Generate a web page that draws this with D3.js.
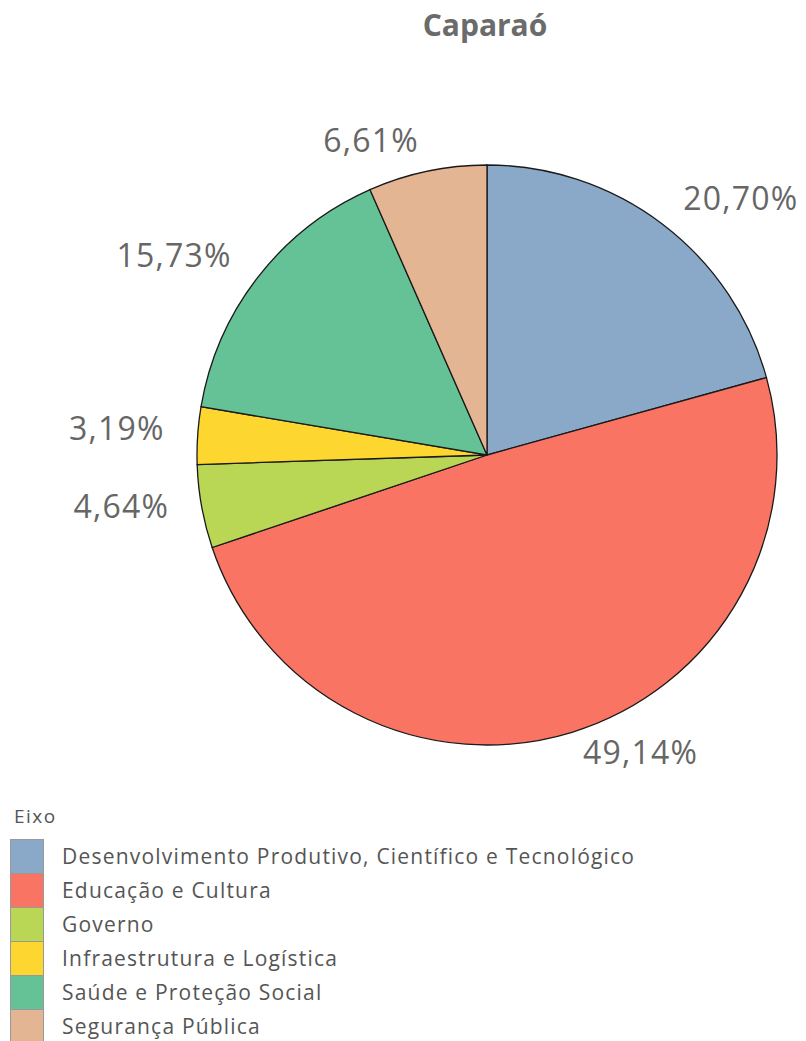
<!DOCTYPE html>
<html>
<head>
<meta charset="utf-8">
<script src="https://cdn.jsdelivr.net/npm/d3@7"></script>
<style>
  body { margin: 0; background: #fff; }
  text { font-family: "Open Sans", "Noto Sans", sans-serif; }
</style>
</head>
<body>
<svg id="mainsvg" width="806" height="1041"></svg>
<script>
const title = "Caparaó";
const legendTitle = "Eixo";
const categories = [
  "Desenvolvimento Produtivo, Científico e Tecnológico",
  "Educação e Cultura",
  "Governo",
  "Infraestrutura e Logística",
  "Saúde e Proteção Social",
  "Segurança Pública"
];
const values = [20.70, 49.14, 4.64, 3.19, 15.73, 6.61];
const labels = ["20,70%", "49,14%", "4,64%", "3,19%", "15,73%", "6,61%"];
const colors = ["#8aa9c9", "#f97462", "#b9d655", "#fdd62f", "#65c297", "#e3b593"];

const svg = d3.select("#mainsvg");
const cx = 487, cy = 455, radius = 290;

svg.append("text")
  .attr("x", 485).attr("y", 36)
  .attr("text-anchor", "middle")
  .style("font-size", "30px")
  .style("font-weight", "bold")
  .style("fill", "#6b6b6b")
  .text(title);

const data = categories.map((c, i) => ({name: c, value: values[i], label: labels[i], color: colors[i]}));

const pie = d3.pie().sort(null).value(d => d.value);
const arc = d3.arc().innerRadius(0).outerRadius(radius);

const g = svg.append("g").attr("transform", `translate(${cx},${cy})`);
const arcs = pie(data);

g.selectAll("path")
  .data(arcs)
  .enter().append("path")
  .attr("d", arc)
  .attr("fill", d => d.data.color)
  .attr("stroke", "#1a1a1a")
  .attr("stroke-width", 1.3);

// labels sit just outside the rim, at the slice mid-angle
const midAngle = d => (d.startAngle + d.endAngle) / 2;
g.selectAll("text.lbl")
  .data(arcs)
  .enter().append("text")
  .attr("class", "lbl")
  .attr("x", d => 321 * Math.sin(midAngle(d)) + (midAngle(d) < Math.PI ? 2 : -2))
  .attr("y", d => -316 * Math.cos(midAngle(d)) - 5)
  .attr("text-anchor", d => (midAngle(d) < Math.PI ? "start" : "end"))
  .attr("dy", "0.36em")
  .style("font-size", "32px")
  .style("letter-spacing", "1.2px")
  .style("fill", "#666")
  .text(d => d.data.label);

// legend
const lg = svg.append("g");
lg.append("text")
  .attr("x", 14).attr("y", 823)
  .style("font-size", "19px")
  .style("letter-spacing", "1.5px")
  .style("fill", "#555")
  .text(legendTitle);

const rowH = 34;
const rows = lg.selectAll("g.row")
  .data(data)
  .enter().append("g")
  .attr("class", "row")
  .attr("transform", (d, i) => `translate(0,${839 + i * rowH})`);

rows.append("rect")
  .attr("x", 10.5).attr("y", 0.5)
  .attr("width", 33).attr("height", rowH)
  .attr("fill", d => d.color)
  .attr("stroke", "#999")
  .attr("stroke-width", 1);

rows.append("text")
  .attr("x", 62).attr("y", 25)
  .style("font-size", "21px")
  .style("letter-spacing", "1.2px")
  .style("fill", "#555")
  .text(d => d.name);
</script>
</body>
</html>
